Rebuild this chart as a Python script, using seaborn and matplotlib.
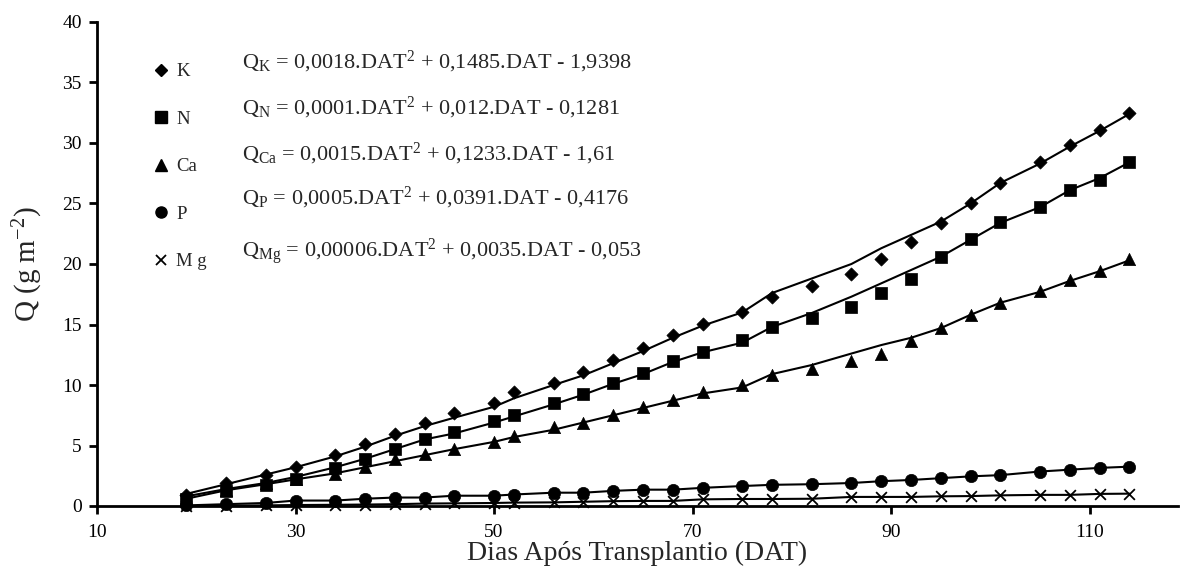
import matplotlib
matplotlib.use("Agg")
import matplotlib.pyplot as plt
from matplotlib.lines import Line2D
import seaborn as sns
import pandas as pd

# ---- data ----
dat = [19, 23, 27, 30, 34, 37, 40, 43, 46, 50, 52, 56, 59, 62, 65, 68, 71, 75,
       78, 82, 86, 89, 92, 95, 98, 101, 105, 108, 111, 114]

k_obs = [0.9, 1.9, 2.6, 3.25, 4.2, 5.1, 5.95, 6.9, 7.7, 8.55, 9.4, 10.2, 11.1, 12.1,
         13.05, 14.1, 15.05, 16.05, 17.25, 18.2, 19.2, 20.4, 21.8, 23.4, 25.0, 26.7,
         28.4, 29.8, 31.1, 32.45]
k_fit = [1.0, 1.8, 2.6, 3.2, 4.1, 4.9, 5.8, 6.6, 7.3, 8.2, 8.9, 10.0, 10.8, 11.8,
         12.8, 13.9, 14.9, 16.0, 17.6, 18.8, 20.0, 21.3, 22.4, 23.5, 25.0, 26.7,
         28.3, 29.7, 31.0, 32.4]

n_obs = [0.6, 1.2, 1.7, 2.25, 3.1, 3.9, 4.75, 5.55, 6.15, 7.05, 7.5, 8.55, 9.25, 10.2,
         11.0, 11.95, 12.75, 13.75, 14.8, 15.5, 16.45, 17.6, 18.75, 20.55, 22.05, 23.45,
         24.75, 26.15, 26.95, 28.45]
n_fit = [0.8, 1.4, 1.9, 2.4, 3.2, 3.9, 4.7, 5.5, 6.0, 6.9, 7.4, 8.4, 9.2, 10.1,
         10.9, 11.9, 12.7, 13.5, 14.8, 15.95, 17.3, 18.4, 19.5, 20.6, 22.0, 23.4,
         24.7, 26.1, 27.1, 28.4]

ca_obs = [0.5, 1.3, 1.9, 2.25, 2.65, 3.25, 3.85, 4.3, 4.75, 5.3, 5.8, 6.5, 6.85, 7.5,
          8.15, 8.75, 9.4, 10.0, 10.85, 11.3, 11.95, 12.6, 13.6, 14.75, 15.8, 16.8,
          17.8, 18.7, 19.4, 20.4]
ca_fit = [0.6, 1.3, 1.8, 2.2, 2.7, 3.2, 3.7, 4.2, 4.7, 5.3, 5.7, 6.3, 6.9, 7.5,
          8.1, 8.7, 9.3, 9.8, 10.9, 11.65, 12.6, 13.3, 13.9, 14.7, 15.8, 16.8,
          17.7, 18.6, 19.4, 20.3]

p_obs = [0.05, 0.15, 0.25, 0.45, 0.45, 0.6, 0.7, 0.7, 0.85, 0.85, 0.95, 1.1, 1.1, 1.25,
         1.35, 1.35, 1.5, 1.65, 1.75, 1.8, 1.9, 2.05, 2.15, 2.3, 2.45, 2.55,
         2.85, 3.0, 3.15, 3.25]

mg_obs = [0.0, 0.02, 0.05, 0.08, 0.1, 0.12, 0.15, 0.2, 0.22, 0.25, 0.28, 0.3, 0.35, 0.4,
          0.42, 0.42, 0.55, 0.58, 0.58, 0.6, 0.75, 0.75, 0.75, 0.8, 0.82, 0.88,
          0.92, 0.92, 1.0, 1.02]

series_names = ["K", "N", "Ca", "P", "Mg"]
legend_labels = ["K", "N", "Ca", "P", "M g"]
equations = [
    r"Q$_{\mathrm{K}}$ = 0,0018.DAT$^{2}$ + 0,1485.DAT - 1,9398",
    r"Q$_{\mathrm{N}}$ = 0,0001.DAT$^{2}$ + 0,012.DAT - 0,1281",
    r"Q$_{\mathrm{Ca}}$ = 0,0015.DAT$^{2}$ + 0,1233.DAT - 1,61",
    r"Q$_{\mathrm{P}}$ = 0,0005.DAT$^{2}$ + 0,0391.DAT - 0,4176",
    r"Q$_{\mathrm{Mg}}$ = 0,00006.DAT$^{2}$ + 0,0035.DAT - 0,053",
]
x_ticks = [10, 30, 50, 70, 90, 110]
y_ticks = [0, 5, 10, 15, 20, 25, 30, 35, 40]

obs = {"K": k_obs, "N": n_obs, "Ca": ca_obs, "P": p_obs, "Mg": mg_obs}
fit = {"K": k_fit, "N": n_fit, "Ca": ca_fit, "P": p_obs, "Mg": mg_obs}

# ---- style ----
sns.set_theme(style="white")
plt.rcParams["font.family"] = ["Liberation Serif", "DejaVu Serif"]
plt.rcParams["mathtext.fontset"] = "custom"
plt.rcParams["mathtext.rm"] = "Liberation Serif"
plt.rcParams["mathtext.it"] = "Liberation Serif:italic"
plt.rcParams["mathtext.bf"] = "Liberation Serif:bold"

markers = {"K": "D", "N": "s", "Ca": "^", "P": "o", "Mg": "x"}
sizes = {"K": 45, "N": 78, "Ca": 78, "P": 78, "Mg": 60}

W, H = 1181, 570
fig = plt.figure(figsize=(W / 100, H / 100), dpi=100)
ax = fig.add_axes([97 / W, 1 - 506 / H, (1178 - 97) / W, (506 - 22) / H])

for name in series_names:
    df_fit = pd.DataFrame({"DAT": dat, "Q": fit[name]})
    sns.lineplot(data=df_fit, x="DAT", y="Q", color="black", linewidth=1.5,
                 ax=ax, zorder=2, estimator=None, sort=False)
for name in series_names:
    df_obs = pd.DataFrame({"DAT": dat, "Q": obs[name]})
    if name == "Mg":
        sns.scatterplot(data=df_obs, x="DAT", y="Q", marker="x", color="black",
                        s=sizes[name], linewidth=1.3, ax=ax, zorder=3, clip_on=False)
    else:
        sns.scatterplot(data=df_obs, x="DAT", y="Q", marker=markers[name],
                        color="black", edgecolor="black", s=sizes[name],
                        linewidth=0.5, ax=ax, zorder=3, clip_on=False)

ax.set_xlim(10, 118.9)
ax.set_ylim(0, 40)
ax.set_xticks(x_ticks)
ax.set_yticks(y_ticks)
for s in ["top", "right"]:
    ax.spines[s].set_visible(False)
for s in ["left", "bottom"]:
    ax.spines[s].set_color("black")
    ax.spines[s].set_linewidth(2)
ax.tick_params(axis="y", direction="out", length=6, width=2, colors="black",
               labelsize=14, pad=5, left=True)
ax.tick_params(axis="x", direction="out", length=6, width=2, colors="black",
               labelsize=14, pad=7, bottom=True)
ax.set_xlabel("Dias Após Transplantio (DAT)", fontsize=20, labelpad=0)
ax.set_ylabel(r"Q (g m$^{-2}$)", fontsize=21, labelpad=12)
ax.grid(False)

# legend (symbol + element)
handles = []
for name in series_names:
    if name == "Mg":
        h = Line2D([], [], marker="x", color="black", linestyle="none",
                   markersize=7.5, markeredgewidth=1.3)
    else:
        h = Line2D([], [], marker=markers[name], color="black", linestyle="none",
                   markersize=6.5 if name == "K" else 8.0)
    handles.append(h)
leg = ax.legend(handles, legend_labels, loc="upper left",
                bbox_to_anchor=((152 - 97) / (1178 - 97), (506 - 63) / (506 - 22)),
                frameon=False, fontsize=13.5, labelspacing=1.62, handletextpad=0.3,
                handlelength=1.0, borderaxespad=0, borderpad=0)

eq_y = [62, 108, 154, 198, 252]
for txt, yy in zip(equations, eq_y):
    fig.text(242 / W, 1 - yy / H, txt, fontsize=16, va="center", ha="left")

fig.savefig("out.png", dpi=100)
